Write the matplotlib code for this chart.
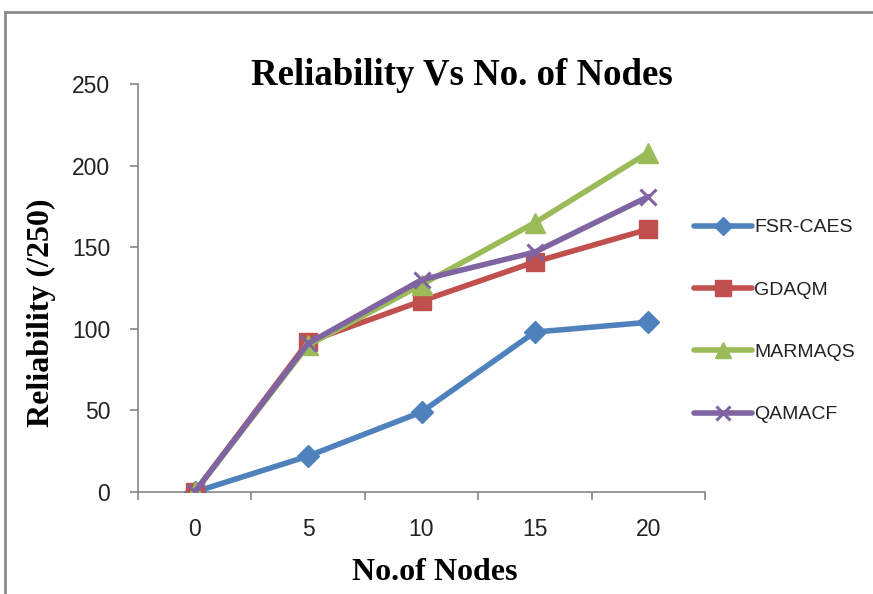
import matplotlib
matplotlib.use("Agg")
import matplotlib.pyplot as plt
from matplotlib.lines import Line2D

categories = ["0", "5", "10", "15", "20"]
fsr_caes = [0, 22, 49, 98, 104]
gdaqm = [0, 92, 117, 141, 161]
marmaqs = [0, 90, 127, 165, 208]
qamacf = [0, 91, 130, 147, 181]

series = [
    ("FSR-CAES", fsr_caes, "#4F81BD", "D", 11),
    ("GDAQM", gdaqm, "#C0504D", "s", 13.5),
    ("MARMAQS", marmaqs, "#9BBB59", "^", 14),
    ("QAMACF", qamacf, "#8064A2", "x", 12),
]

W, H = 873, 594
fig = plt.figure(figsize=(W / 100, H / 100), dpi=100)
ax = fig.add_axes([138 / W, 1 - 492 / H, (705 - 138) / W, (492 - 84) / H])

xs = list(range(len(categories)))
handles = []
for name, vals, col, mk, ms in series:
    if mk == "x":
        ln, = ax.plot(xs, vals, color=col, lw=4, marker=mk, ms=ms, mew=2.2,
                      mec=col, label=name, solid_capstyle="round", zorder=3)
    else:
        ln, = ax.plot(xs, vals, color=col, lw=4, marker=mk, ms=ms,
                      mfc=col, mec=col, label=name, solid_capstyle="round", zorder=3)
    handles.append(ln)

ax.set_xlim(-0.5, len(categories) - 0.5)
ax.set_ylim(0, 250)
ax.set_yticks(range(0, 251, 50))
ax.set_xticks(xs)
ax.set_xticklabels(categories)
ax.set_xticks([x - 0.5 for x in range(len(categories) + 1)], minor=True)

spine_col = "#868686"
for s in ["top", "right"]:
    ax.spines[s].set_visible(False)
for s in ["left", "bottom"]:
    ax.spines[s].set_color(spine_col)
    ax.spines[s].set_linewidth(1.2)

tick_font = "Liberation Sans"
ax.tick_params(axis="y", direction="out", length=6, width=1.2, color=spine_col,
               labelsize=16.5, pad=14)
ax.tick_params(axis="x", which="major", length=0, labelsize=16.5, pad=19)
ax.tick_params(axis="x", which="minor", direction="out", length=6, width=1.2,
               color=spine_col)
for lab in ax.get_xticklabels() + ax.get_yticklabels():
    lab.set_fontfamily(tick_font)
    lab.set_color("#222222")

serif = "Liberation Serif"
fig.text(462 / W, 1 - 85 / H, "Reliability Vs No. of Nodes", ha="center",
         va="baseline", fontsize=26.5, fontweight="bold", family=serif)
fig.text(41.5 / W, 1 - 313 / H, "Reliability (/250)", ha="center", va="center",
         rotation=90, fontsize=23, fontweight="bold", family=serif)
fig.text(435 / W, 1 - 580 / H, "No.of Nodes", ha="center", va="baseline",
         fontsize=23, fontweight="bold", family=serif)

leg = fig.legend(handles=handles, loc="upper left",
                 bbox_to_anchor=(686 / W, 1 - 211 / H), frameon=False,
                 prop={"family": tick_font, "size": 14}, handlelength=3.0,
                 handletextpad=0.1, labelspacing=2.3, borderaxespad=0,
                 markerscale=0.85)
for t in leg.get_texts():
    t.set_color("#222222")

# outer chart frame
fc = "#8C8C8C"
fig.add_artist(Line2D([5 / W, 1], [1 - 12 / H, 1 - 12 / H], color=fc, lw=2,
                      transform=fig.transFigure))
fig.add_artist(Line2D([5 / W, 5 / W], [1 - 12 / H, 0], color=fc, lw=2,
                      transform=fig.transFigure))

fig.savefig("out.png", dpi=100, facecolor="white")
